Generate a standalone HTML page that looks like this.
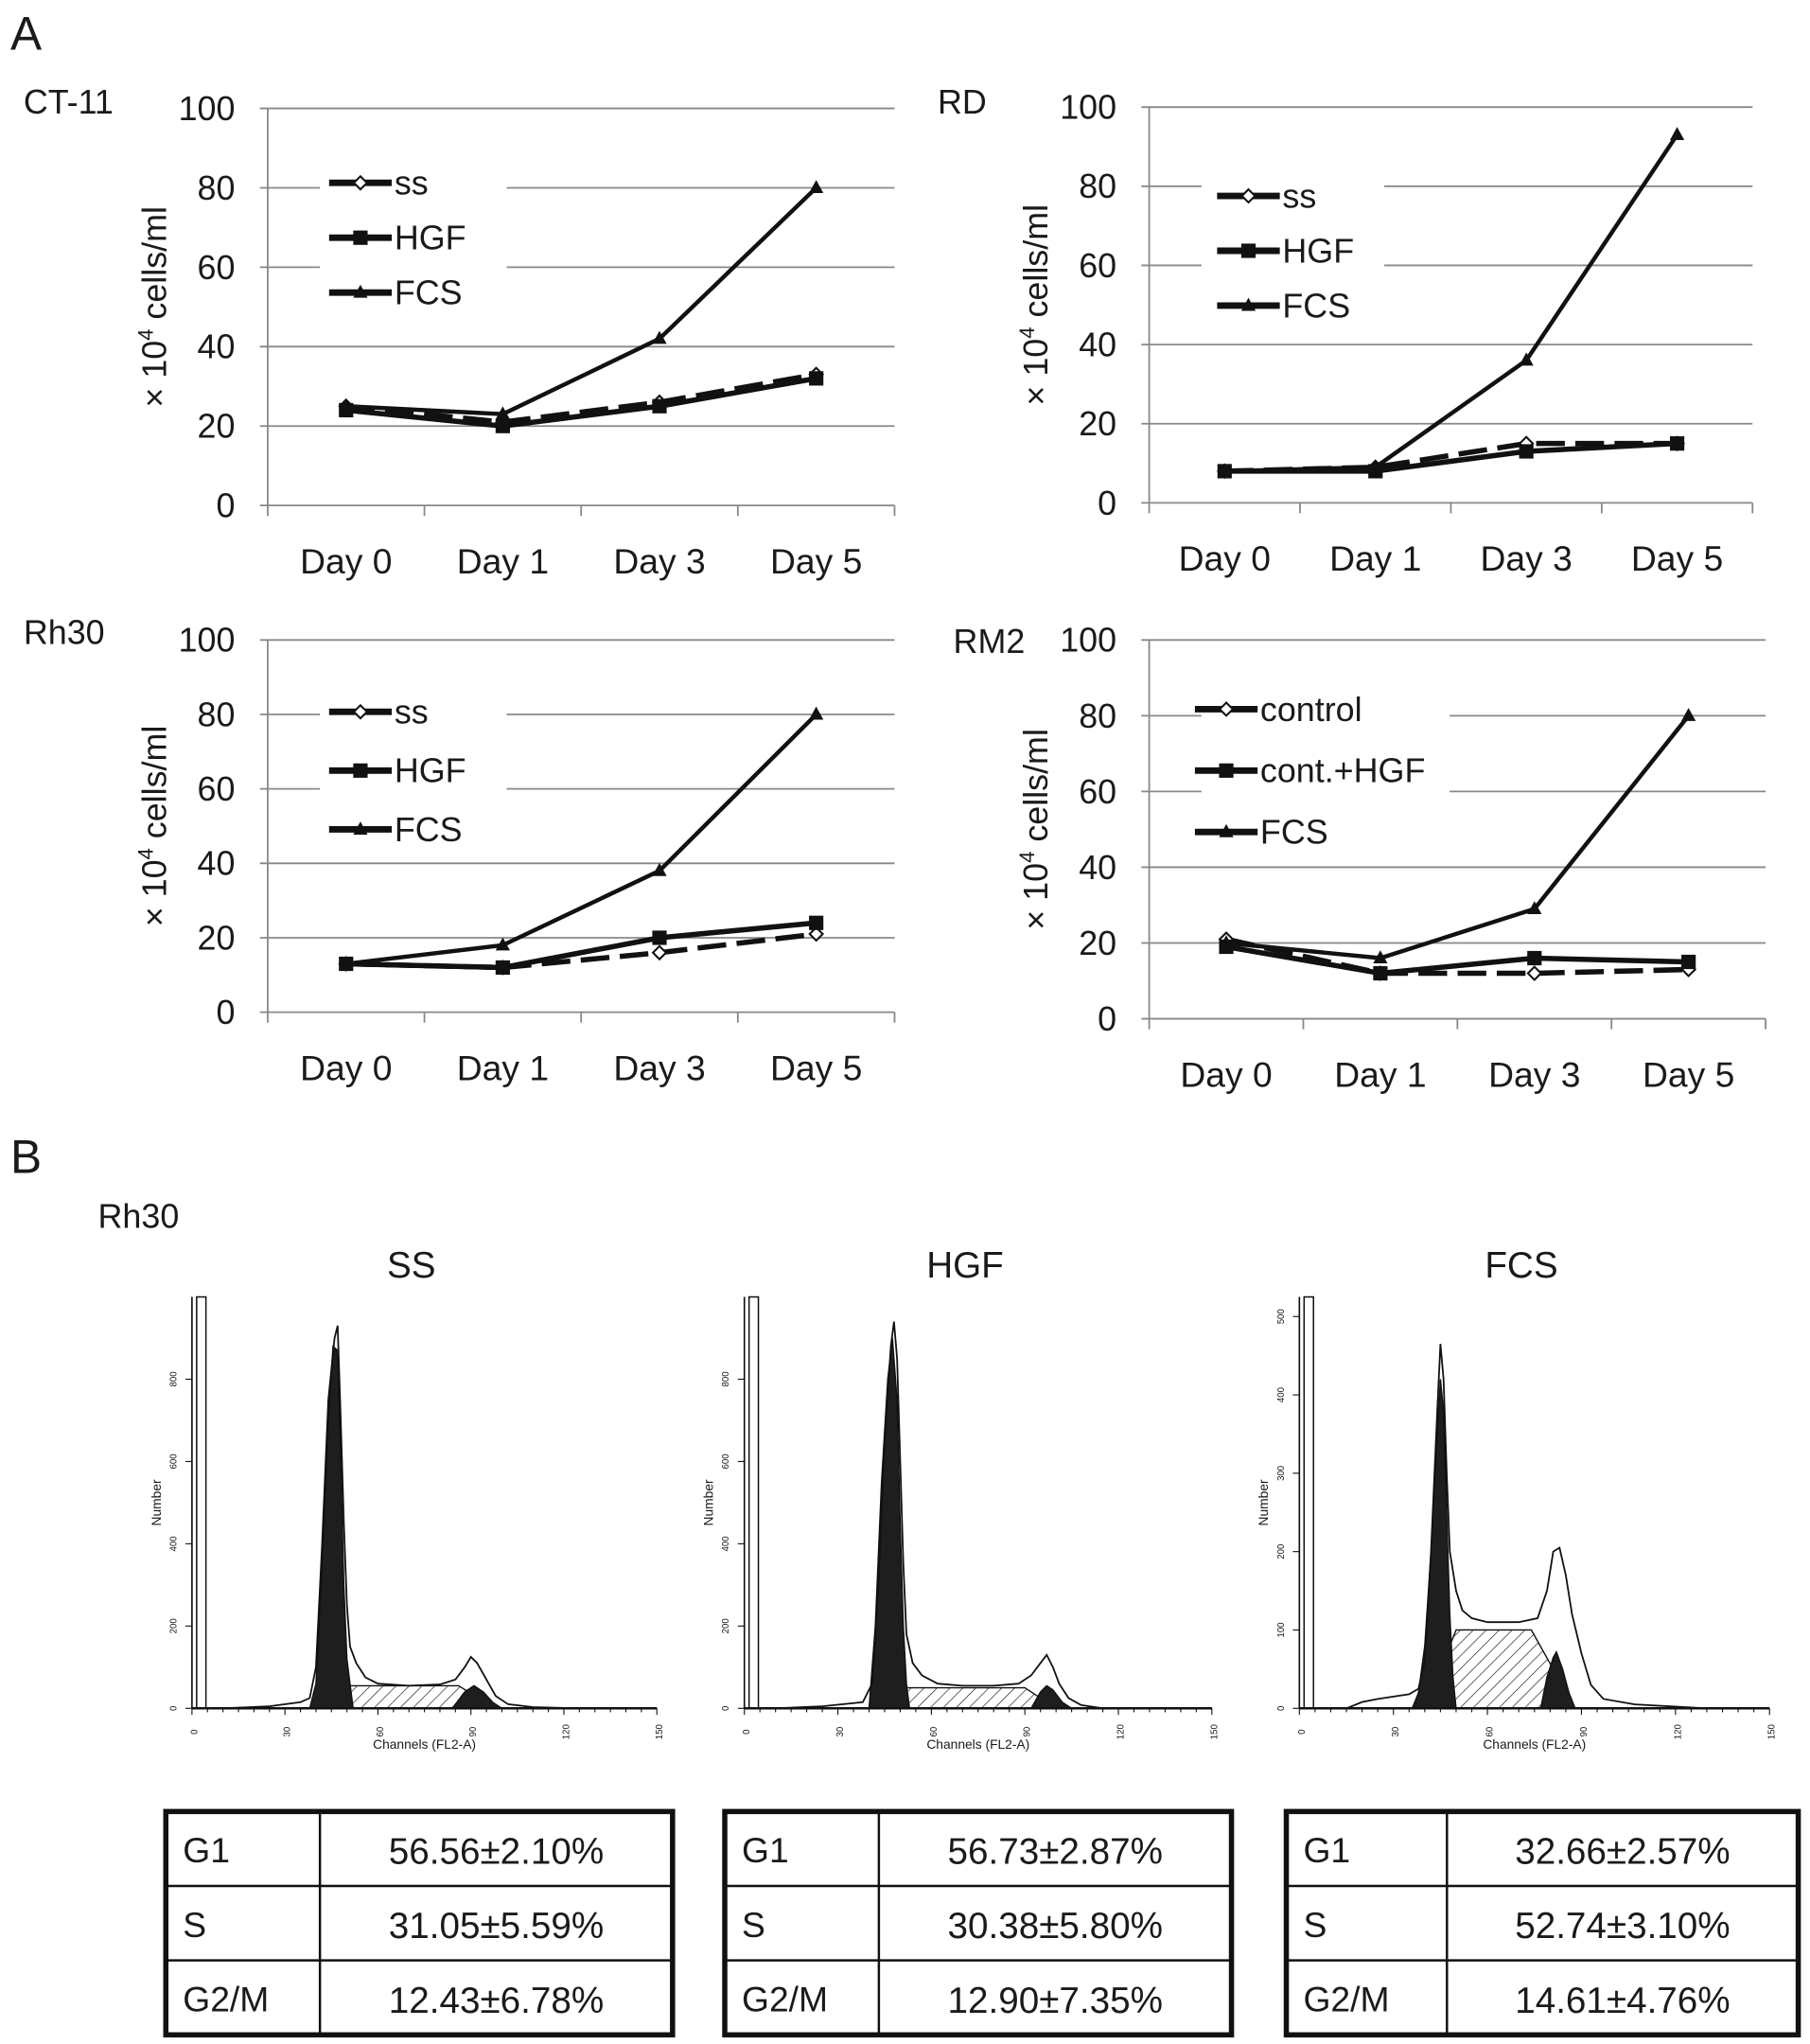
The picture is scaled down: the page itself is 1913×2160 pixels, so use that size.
<!DOCTYPE html>
<html><head><meta charset="utf-8">
<style>
html,body{margin:0;padding:0;background:#fff;}
svg{display:block;}
text{font-family:"Liberation Sans",Arial,sans-serif;fill:#1a1a1a;}
</style></head>
<body>
<svg id="fig" width="1913" height="2160" viewBox="0 0 1386 1565" preserveAspectRatio="none" xmlns="http://www.w3.org/2000/svg">
<defs>
<pattern id="hatch" width="7" height="7" patternUnits="userSpaceOnUse" patternTransform="rotate(45)">
<line x1="0" y1="0" x2="0" y2="7" stroke="#222" stroke-width="1"/>
</pattern>
</defs>
<g id="root"></g>
</svg>
<script>
// ---------- line chart data ----------
const days = ["Day 0","Day 1","Day 3","Day 5"];
const yTicks = [0,20,40,60,80,100];
const ct11_ss  = [25,21,26,33];
const ct11_hgf = [24,20,25,32];
const ct11_fcs = [25,23,42,80];
const rd_ss  = [8,9,15,15];
const rd_hgf = [8,8,13,15];
const rd_fcs = [8,9,36,93];
const rh30_ss  = [13,12,16,21];
const rh30_hgf = [13,12,20,24];
const rh30_fcs = [13,18,38,80];
const rm2_ctrl = [21,12,12,13];
const rm2_hgf  = [19,12,16,15];
const rm2_fcs  = [20,16,29,80];
const legendA = ["ss","HGF","FCS"];
const legendB = ["control","cont.+HGF","FCS"];

// ---------- histogram data (channel, count) ----------
const ssEnvC = [0,10,25,35,38,40,42,44,46,47,48,49,50,51,53,56,60,70,80,85,88,90,92,95,98,102,110,125,150];
const ssEnvN = [0,0,5,15,25,100,400,750,900,930,700,450,250,150,110,75,60,55,58,70,100,125,110,70,30,10,3,0,0];
const ssG1C = [38,40,42,44,45.5,47,48,49,50,51,52];
const ssG1N = [0,60,350,700,880,870,600,300,120,60,0];
const ssSC = [42,50,86,98]; const ssSN = [0,55,55,0];
const ssG2C = [84,88,91,94,97,100]; const ssG2N = [0,40,55,40,15,0];

const hgfEnvC = [0,10,25,38,41,43,45,47,48,49,50,51,52,54,57,62,70,80,88,92,95,97,99,101,104,108,115,150];
const hgfEnvN = [0,0,5,15,60,300,650,880,940,850,600,350,180,110,80,60,55,55,60,80,110,130,100,60,25,8,0,0];
const hgfG1C = [40,42,44,46,47.5,49,50,51,52,53];
const hgfG1N = [0,200,550,800,900,750,450,200,60,0];
const hgfSC = [44,52,90,100]; const hgfSN = [0,50,50,0];
const hgfG2C = [92,95,97,99,102,105]; const hgfG2N = [0,40,55,45,15,0];

const fcsEnvC = [0,15,20,25,30,35,38,40,42,44,45,46,47,48,50,52,55,60,70,76,79,81,83,85,87,90,93,97,107,130,150];
const fcsEnvN = [0,0,8,12,15,18,25,60,200,380,465,420,300,200,150,125,115,110,110,115,150,200,205,170,120,70,30,12,5,0,0];
const fcsG1C = [36,38,40,42,44,45,46,47,48,49,50];
const fcsG1N = [0,20,80,200,350,420,380,250,120,40,0];
const fcsSC = [40,50,74,88]; const fcsSN = [0,100,100,0];
const fcsG2C = [77,79,81,82,84,86,88]; const fcsG2N = [0,40,65,72,50,20,0];

// ---------- tables ----------
const phases = ["G1","S","G2/M"];
const ssVals = ["56.56±2.10%","31.05±5.59%","12.43±6.78%"];
const hgfVals = ["56.73±2.87%","30.38±5.80%","12.90±7.35%"];
const fcsVals = ["32.66±2.57%","52.74±3.10%","14.61±4.76%"];

const NS="http://www.w3.org/2000/svg";
const root=document.getElementById('root');
function el(tag,attrs,parent,txt){const e=document.createElementNS(NS,tag);for(const k in attrs)e.setAttribute(k,attrs[k]);if(txt!==undefined)e.textContent=txt;(parent||root).appendChild(e);return e;}

function txt(x,y,s,size,name,extra){
  const t=el('text',Object.assign({x:x,y:y,'font-size':size},extra||{}),root,s);
  
  
  return t;
}

function marker(g,type,x,y){
  let m;
  if(type==='diamond'){m=el('path',{d:`M${x} ${y-5}L${x+5} ${y}L${x} ${y+5}L${x-5} ${y}Z`,fill:'#fff',stroke:'#111','stroke-width':1.5},g);}
  else if(type==='square'){m=el('rect',{x:x-5.5,y:y-5.5,width:11,height:11,fill:'#111'},g);}
  else {m=el('path',{d:`M${x} ${y-6}L${x+5.5} ${y+4}L${x-5.5} ${y+4}Z`,fill:'#111'},g);}
  
  
}

function lineChart(o){
  const g=el('g',{});
  
  
  const band=(o.x1-o.x0)/days.length;
  const X=i=>o.x0+band*(i+0.5);
  const Y=v=>o.yb-(v/100)*(o.yb-o.yt);
  yTicks.forEach(v=>{
    const y=Y(v);
    const gap=(v===60||v===80)&&o.legendGap;
    if(gap){el('line',{x1:o.x0-6,y1:y,x2:o.x0+40,y2:y,stroke:'#888','stroke-width':1.3},g);el('line',{x1:o.legEnd,y1:y,x2:o.x1,y2:y,stroke:'#888','stroke-width':1.3},g);}
    else el('line',{x1:o.x0-6,y1:y,x2:o.x1,y2:y,stroke:'#888','stroke-width':1.3},g);
    txt(o.x0-25,y+9,String(v),26,'y-tick-label',{'text-anchor':'end'});
  });
  el('line',{x1:o.x0,y1:o.yt,x2:o.x0,y2:o.yb+8,stroke:'#888','stroke-width':1.3},g);
  for(let i=1;i<=days.length;i++)el('line',{x1:o.x0+band*i,y1:o.yb,x2:o.x0+band*i,y2:o.yb+8,stroke:'#888','stroke-width':1.3},g);
  days.forEach((d,i)=>txt(X(i),o.yb+52,d,27,'x-tick-label',{'text-anchor':'middle'}));
  const yt=txt(0,0,'× 10',26,'y-axis-title',{transform:`translate(${o.x0-78},${(o.yt+o.yb)/2}) rotate(-90)`,'text-anchor':'middle'});
  el('tspan',{'font-size':16,dy:-10},yt,'4');
  el('tspan',{dy:10},yt,' cells/ml');
  txt(o.tx,o.ty,o.title,26,'panel-title');
  const types=['diamond','square','triangle'];
  o.series.forEach((s,k)=>{
    const pts=s.map((v,i)=>X(i)+','+Y(v)).join(' ');
    const p=el('polyline',{points:pts,fill:'none',stroke:'#111','stroke-width':k===2?3.2:4,'stroke-dasharray':k===0?'22 8':'none'},g);
    
    
    s.forEach((v,i)=>marker(g,types[k],X(i),Y(v)));
    const ly=o.ly+k*o.lstep;
    el('line',{x1:o.lx,y1:ly,x2:o.lx+48,y2:ly,stroke:'#111','stroke-width':5},g);
    marker(g,types[k],o.lx+24,ly);
    txt(o.lx+50,ly+9,o.labels[k],26,'legend-entry');
  });
}

lineChart({name:'chart-ct11',x0:205,x1:685,yt:83,yb:387,tx:18,ty:87,title:'CT-11',series:[ct11_ss,ct11_hgf,ct11_fcs],labels:legendA,lx:252,ly:140,lstep:42,legendGap:true,legEnd:388});
lineChart({name:'chart-rd',x0:880,x1:1342,yt:82,yb:385,tx:718,ty:87,title:'RD',series:[rd_ss,rd_hgf,rd_fcs],labels:legendA,lx:932,ly:150,lstep:42,legendGap:true,legEnd:1060});
lineChart({name:'chart-rh30',x0:205,x1:685,yt:490,yb:775,tx:18,ty:493,title:'Rh30',series:[rh30_ss,rh30_hgf,rh30_fcs],labels:legendA,lx:252,ly:545,lstep:45,legendGap:true,legEnd:388});
lineChart({name:'chart-rm2',x0:880,x1:1352,yt:490,yb:780,tx:730,ty:500,title:'RM2',series:[rm2_ctrl,rm2_hgf,rm2_fcs],labels:legendB,lx:915,ly:543,lstep:47,legendGap:true,legEnd:1110});

txt(8,38,'A',36,'panel-label-a');
txt(8,898,'B',36,'panel-label-b');
txt(75,940,'Rh30',26,'section-title-rh30');

function hist(o){
  const g=el('g',{});
  
  
  const X=c=>o.x0+c/150*(o.x1-o.x0);
  const Y=n=>o.yb-n/o.ymax*(o.yb-o.yt);
  const poly=(C,N)=>C.map((c,i)=>X(c)+','+Y(N[i])).join(' ');
  const s=el('polygon',{points:poly(o.sC,o.sN),fill:'url(#hatch)',stroke:'#111','stroke-width':1},g);
  
  const a=el('polygon',{points:poly(o.g1C,o.g1N),fill:'#1e1e1e',stroke:'#111','stroke-width':1},g);
  
  const b=el('polygon',{points:poly(o.g2C,o.g2N),fill:'#1e1e1e',stroke:'#111','stroke-width':1},g);
  
  const e=el('polyline',{points:poly(o.eC,o.eN),fill:'none',stroke:'#111','stroke-width':1.3},g);
  
  el('rect',{x:X(1.5),y:o.yt,width:X(4.5)-X(1.5),height:o.yb-o.yt,fill:'#fff',stroke:'#111','stroke-width':1.1},g);
  el('line',{x1:o.x0,y1:o.yt,x2:o.x0,y2:o.yb,stroke:'#111','stroke-width':1.2},g);
  el('line',{x1:o.x0,y1:o.yb,x2:o.x1,y2:o.yb,stroke:'#111','stroke-width':1.8},g);
  for(let c=0;c<=150;c+=5)el('line',{x1:X(c),y1:o.yb,x2:X(c),y2:o.yb+(c%30?3:5),stroke:'#111','stroke-width':0.8},g);
  [0,30,60,90,120,150].forEach(c=>txt(X(c),o.yb+22,String(c),7,'x-tick-label',{'text-anchor':'middle',transform:`rotate(-90 ${X(c)} ${o.yb+18})`,fill:'#444'}));
  o.yticks.forEach(n=>{el('line',{x1:o.x0-5,y1:Y(n),x2:o.x0,y2:Y(n),stroke:'#111','stroke-width':0.8},g);
    txt(o.x0-12,Y(n),String(n),7,'y-tick-label',{'text-anchor':'middle',transform:`rotate(-90 ${o.x0-12} ${Y(n)})`,fill:'#444'});});
  txt((o.x0+o.x1)/2,o.yb+31,'Channels (FL2-A)',10,'x-axis-title',{'text-anchor':'middle',fill:'#444'});
  txt(o.x0-24,(o.yt+o.yb)/2,'Number',10,'y-axis-title',{'text-anchor':'middle',transform:`rotate(-90 ${o.x0-24} ${(o.yt+o.yb)/2})`,fill:'#444'});
  txt((o.x0+o.x1)/2-10,978,o.title,28,'histogram-title',{'text-anchor':'middle'});
}
hist({name:'histogram-ss',title:'SS',x0:147,x1:503,yt:993,yb:1308,ymax:1000,yticks:[0,200,400,600,800],eC:ssEnvC,eN:ssEnvN,g1C:ssG1C,g1N:ssG1N,sC:ssSC,sN:ssSN,g2C:ssG2C,g2N:ssG2N});
hist({name:'histogram-hgf',title:'HGF',x0:570,x1:928,yt:993,yb:1308,ymax:1000,yticks:[0,200,400,600,800],eC:hgfEnvC,eN:hgfEnvN,g1C:hgfG1C,g1N:hgfG1N,sC:hgfSC,sN:hgfSN,g2C:hgfG2C,g2N:hgfG2N});
hist({name:'histogram-fcs',title:'FCS',x0:995,x1:1355,yt:993,yb:1308,ymax:525,yticks:[0,100,200,300,400,500],eC:fcsEnvC,eN:fcsEnvN,g1C:fcsG1C,g1N:fcsG1N,sC:fcsSC,sN:fcsSN,g2C:fcsG2C,g2N:fcsG2N});

function table(x0,x1,split,vals,name){
  const g=el('g',{});
  
  
  const y0=1387,h=57;
  for(let r=1;r<3;r++)el('line',{x1:x0,y1:y0+h*r,x2:x1,y2:y0+h*r,stroke:'#111','stroke-width':1.8},g);
  el('line',{x1:split,y1:y0,x2:split,y2:y0+3*h,stroke:'#111','stroke-width':1.8},g);
  el('rect',{x:x0,y:y0,width:x1-x0,height:3*h,fill:'none',stroke:'#111','stroke-width':4},g);
  phases.forEach((p,r)=>{
    txt(x0+13,y0+h*r+39,p,27,'phase-label');
    txt((split+x1)/2,y0+h*r+40,vals[r],28,'phase-value',{'text-anchor':'middle'});
  });
}
table(127,515,245,ssVals,'table-ss');
table(555,943,673,hgfVals,'table-hgf');
table(985,1377,1108,fcsVals,'table-fcs');
</script>
</body></html>
